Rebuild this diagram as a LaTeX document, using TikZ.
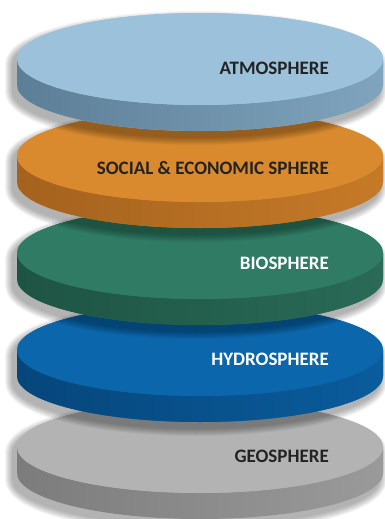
\documentclass[tikz,border=0pt]{standalone}
\usepackage{fontspec}
\setmainfont{Carlito}
\definecolor{atmTop}{HTML}{9BC2DA}
\definecolor{atmSL}{HTML}{5D7E97}
\definecolor{atmSR}{HTML}{80A4BD}
\definecolor{socTop}{HTML}{D98A2E}
\definecolor{socSL}{HTML}{A4621E}
\definecolor{socSR}{HTML}{C67A28}
\definecolor{bioTop}{HTML}{2F7B64}
\definecolor{bioSL}{HTML}{1E5444}
\definecolor{bioSR}{HTML}{2A6A57}
\definecolor{hydTop}{HTML}{0B66AC}
\definecolor{hydSL}{HTML}{06467B}
\definecolor{hydSR}{HTML}{0A5C9C}
\definecolor{geoTop}{HTML}{B3B3B3}
\definecolor{geoSL}{HTML}{7C7C7C}
\definecolor{geoSR}{HTML}{9A9A9A}
\definecolor{darktxt}{HTML}{232323}
\tikzset{
  lbl/.style={anchor=east, inner sep=0pt, font=\fontsize{19}{19}\selectfont\bfseries},
  shadowlayer/.style={fill=black, draw=black, line join=round}
}
\newcommand{\silhouette}[1]{%
  (17,#1) -- (17,{#1+26})
  arc[start angle=180, end angle=0, x radius=183, y radius=46]
  -- (383,#1)
  arc[start angle=0, end angle=-180, x radius=183, y radius=46] -- cycle}
\newcommand{\mydisc}[4]{%
  % #1 center y, #2 top colour, #3 side left colour, #4 side right colour
  \foreach \w in {16,14,12,10,8,6,4,2}{%
    \begin{scope}[transparency group, opacity=0.045, xshift=-4pt, yshift=-6pt]
      \path[shadowlayer, line width=\w pt] \silhouette{#1};
    \end{scope}}
  \fill[#2] \silhouette{#1};
  \path[left color=#3, right color=#4]
    (17,#1) -- (17,{#1+26})
    arc[start angle=180, end angle=0, x radius=183, y radius=46]
    -- (383,#1)
    arc[start angle=0, end angle=180, x radius=183, y radius=46] -- cycle;
  \fill[#2] (200,#1) ellipse [x radius=183, y radius=46];
}
\begin{document}
\begin{tikzpicture}[x=1pt, y=-1pt]
  \useasboundingbox (0,0) rectangle (385,519);
  \mydisc{447}{geoTop}{geoSL}{geoSR}
  \node[lbl, text=darktxt] (geo) at (329,456) {GEOSPHERE};
  \mydisc{350}{hydTop}{hydSL}{hydSR}
  \node[lbl, text=white] (hyd) at (329,359) {HYDROSPHERE};
  \mydisc{253}{bioTop}{bioSL}{bioSR}
  \node[lbl, text=white] (bio) at (329,263) {BIOSPHERE};
  \mydisc{156}{socTop}{socSL}{socSR}
  \node[lbl, text=darktxt] (soc) at (329,168) {SOCIAL \& ECONOMIC SPHERE};
  \mydisc{59}{atmTop}{atmSL}{atmSR}
  \node[lbl, text=darktxt] (atm) at (329,68) {ATMOSPHERE};
\end{tikzpicture}
\end{document}
